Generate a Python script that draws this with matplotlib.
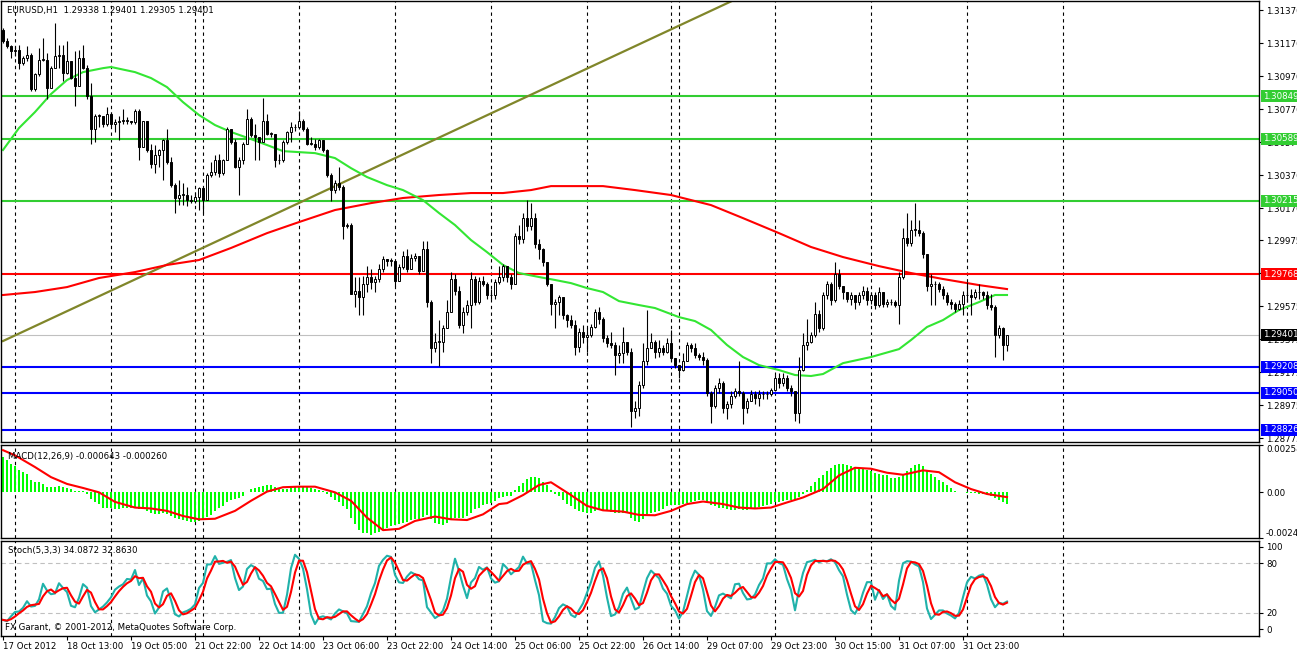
import matplotlib.pyplot as plt
import numpy as np
import pandas as pd

# EURUSD H1 bars, 17 Oct 2012 21:00 .. 1 Nov 2012 10:00
first_open = 1.3125
closes = [
    1.3118, 1.3115, 1.3112, 1.3113, 1.3105, 1.3108, 1.3110, 1.3089, 1.3098, 1.3107,
    1.3107, 1.3090, 1.3102, 1.3109, 1.3110, 1.3099, 1.3106, 1.3096, 1.3091, 1.3108,
    1.3102, 1.3085, 1.3065, 1.3073, 1.3073, 1.3068, 1.3074, 1.3068, 1.3069, 1.3070,
    1.3070, 1.3070, 1.3069, 1.3076, 1.3054, 1.3070, 1.3052, 1.3044, 1.3049, 1.3052,
    1.3058, 1.3045, 1.3031, 1.3023, 1.3025, 1.3025, 1.3022, 1.3021, 1.3024, 1.3029,
    1.3022, 1.3037, 1.3039, 1.3046, 1.3038, 1.3046, 1.3065, 1.3057, 1.3042, 1.3046,
    1.3056, 1.3071, 1.3061, 1.3060, 1.3057, 1.3070, 1.3062, 1.3062, 1.3046, 1.3046,
    1.3057, 1.3063, 1.3066, 1.3066, 1.3070, 1.3065, 1.3056, 1.3056, 1.3054, 1.3058,
    1.3052, 1.3037, 1.3028, 1.3032, 1.3030, 1.3006, 1.3007, 1.2965, 1.2967, 1.2963,
    1.2971, 1.2975, 1.2972, 1.2974, 1.2980, 1.2986, 1.2985, 1.2985, 1.2973, 1.2981,
    1.2988, 1.2980, 1.2987, 1.2988, 1.2979, 1.2992, 1.2960, 1.2932, 1.2936, 1.2936,
    1.2944, 1.2954, 1.2974, 1.2967, 1.2946, 1.2954, 1.2958, 1.2974, 1.2960, 1.2973,
    1.2971, 1.2964, 1.2964, 1.2972, 1.2975, 1.2982, 1.2975, 1.2971, 1.3000, 1.2998,
    1.3011, 1.3006, 1.3011, 1.2995, 1.2992, 1.2984, 1.2971, 1.2959, 1.2960, 1.2963,
    1.2952, 1.2949, 1.2946, 1.2933, 1.2942, 1.2939, 1.2940, 1.2945, 1.2954, 1.2950,
    1.2938, 1.2935, 1.2934, 1.2928, 1.2929, 1.2936, 1.2930, 1.2894, 1.2896, 1.2910,
    1.2924, 1.2932, 1.2936, 1.2930, 1.2932, 1.2930, 1.2935, 1.2926, 1.2922, 1.2919,
    1.2924, 1.2934, 1.2932, 1.2928, 1.2927, 1.2925, 1.2905, 1.2897, 1.2908, 1.2911,
    1.2896, 1.2898, 1.2903, 1.2906, 1.2905, 1.2896, 1.2900, 1.2904, 1.2902, 1.2904,
    1.2904, 1.2904, 1.2907, 1.2914, 1.2911, 1.2914, 1.2908, 1.2906, 1.2893, 1.2919,
    1.2934, 1.2936, 1.2940, 1.2953, 1.2944, 1.2964, 1.2971, 1.2961, 1.2977, 1.2970,
    1.2966, 1.2962, 1.2964, 1.2960, 1.2964, 1.2967, 1.2961, 1.2964, 1.2958, 1.2966,
    1.2959, 1.2960, 1.2960, 1.2958, 1.2975, 1.2999, 1.2996, 1.3004, 1.3004, 1.3002,
    1.2989, 1.2970, 1.2971, 1.2971, 1.2968, 1.2964, 1.2960, 1.2959, 1.2956, 1.2959,
    1.2964, 1.2964, 1.2963, 1.2966, 1.2966, 1.2964, 1.2958, 1.2957, 1.2940, 1.2944,
    1.29338, 1.29401]
highs = [
    1.3126, 1.3120, 1.3116, 1.3115, 1.3116, 1.3109, 1.3115, 1.3111, 1.3099, 1.3114,
    1.3120, 1.3111, 1.3103, 1.3129, 1.3116, 1.3116, 1.3118, 1.3105, 1.3112, 1.3113,
    1.3116, 1.3104, 1.3093, 1.3074, 1.3074, 1.3070, 1.3078, 1.3075, 1.3071, 1.3073,
    1.3077, 1.3072, 1.3070, 1.3077, 1.3077, 1.3070, 1.3070, 1.3056, 1.3055, 1.3053,
    1.3059, 1.3065, 1.3048, 1.3032, 1.3034, 1.3032, 1.3030, 1.3025, 1.3027, 1.3030,
    1.3030, 1.3038, 1.3045, 1.3049, 1.3050, 1.3047, 1.3066, 1.3065, 1.3059, 1.3048,
    1.3057, 1.3077, 1.3072, 1.3068, 1.3060, 1.3084, 1.3074, 1.3063, 1.3061, 1.3050,
    1.3058, 1.3064, 1.3069, 1.3068, 1.3076, 1.3071, 1.3066, 1.3060, 1.3059, 1.3059,
    1.3058, 1.3053, 1.3038, 1.3034, 1.3042, 1.3031, 1.3008, 1.3008, 1.2975, 1.2975,
    1.2976, 1.2982, 1.2980, 1.2976, 1.2983, 1.2988, 1.2986, 1.2987, 1.2983, 1.2983,
    1.2991, 1.2992, 1.2989, 1.2990, 1.2986, 1.2997, 1.2997, 1.2961, 1.2941, 1.2949,
    1.2946, 1.2961, 1.2978, 1.2977, 1.2970, 1.2957, 1.2961, 1.2978, 1.2976, 1.2975,
    1.2976, 1.2972, 1.2968, 1.2974, 1.2982, 1.2983, 1.2981, 1.2977, 1.3002, 1.3007,
    1.3014, 1.3022, 1.3020, 1.3014, 1.2998, 1.2993, 1.2984, 1.2971, 1.2962, 1.2964,
    1.2963, 1.2953, 1.2952, 1.2949, 1.2944, 1.2946, 1.2944, 1.2947, 1.2956, 1.2957,
    1.2951, 1.2940, 1.2942, 1.2936, 1.2934, 1.2945, 1.2936, 1.2932, 1.2900, 1.2912,
    1.2935, 1.2955, 1.2941, 1.2937, 1.2937, 1.2934, 1.2938, 1.2943, 1.2926, 1.2922,
    1.2929, 1.2936, 1.2935, 1.2935, 1.2929, 1.2930, 1.2926, 1.2906, 1.2910, 1.2914,
    1.2912, 1.2900, 1.2906, 1.2908, 1.2924, 1.2906, 1.2902, 1.2907, 1.2906, 1.2907,
    1.2906, 1.2906, 1.2908, 1.2916, 1.2917, 1.2917, 1.2916, 1.2910, 1.2906, 1.2927,
    1.2941, 1.2950, 1.2942, 1.2960, 1.2955, 1.2966, 1.2973, 1.2972, 1.2984, 1.2980,
    1.2970, 1.2966, 1.2966, 1.2962, 1.2966, 1.2970, 1.2969, 1.2966, 1.2966, 1.2969,
    1.2966, 1.2962, 1.2962, 1.2961, 1.2978, 1.3005, 1.3014, 1.3010, 1.3020, 1.3010,
    1.3003, 1.2989, 1.2977, 1.2973, 1.2972, 1.2970, 1.2966, 1.2962, 1.2960, 1.2961,
    1.2967, 1.2972, 1.2968, 1.2968, 1.2971, 1.2967, 1.2967, 1.2965, 1.2958, 1.2946,
    1.2945, 1.29401]
lows = [
    1.3117, 1.3114, 1.3108, 1.3109, 1.3101, 1.3104, 1.3106, 1.3088, 1.3088, 1.3097,
    1.3106, 1.3083, 1.3090, 1.3102, 1.3102, 1.3094, 1.3098, 1.3095, 1.3079, 1.3091,
    1.3101, 1.3083, 1.3056, 1.3057, 1.3066, 1.3066, 1.3067, 1.3067, 1.3063, 1.3058,
    1.3068, 1.3068, 1.3068, 1.3068, 1.3046, 1.3054, 1.3051, 1.3041, 1.3038, 1.3042,
    1.3034, 1.3044, 1.3030, 1.3014, 1.3019, 1.3019, 1.3018, 1.3020, 1.3020, 1.3016,
    1.3014, 1.3022, 1.3036, 1.3037, 1.3036, 1.3037, 1.3046, 1.3056, 1.3041, 1.3025,
    1.3044, 1.3056, 1.3060, 1.3046, 1.3046, 1.3061, 1.3061, 1.3060, 1.3042, 1.3044,
    1.3045, 1.3056, 1.3057, 1.3064, 1.3065, 1.3064, 1.3055, 1.3055, 1.3052, 1.3053,
    1.3051, 1.3036, 1.3021, 1.3026, 1.3028, 1.2998, 1.3005, 1.2965, 1.2957, 1.2952,
    1.2952, 1.2966, 1.2968, 1.2966, 1.2972, 1.2978, 1.2982, 1.2982, 1.2970, 1.2973,
    1.2980, 1.2978, 1.2980, 1.2985, 1.2977, 1.2979, 1.2957, 1.2923, 1.2930, 1.2921,
    1.2930, 1.2944, 1.2954, 1.2964, 1.2944, 1.2941, 1.2952, 1.2944, 1.2958, 1.2959,
    1.2970, 1.2962, 1.2962, 1.2962, 1.2971, 1.2973, 1.2972, 1.2968, 1.2971, 1.2995,
    1.2996, 1.3003, 1.3004, 1.2993, 1.2986, 1.2982, 1.2970, 1.2952, 1.2944, 1.2952,
    1.2950, 1.2945, 1.2944, 1.2928, 1.2930, 1.2935, 1.2930, 1.2939, 1.2944, 1.2947,
    1.2936, 1.2933, 1.2932, 1.2916, 1.2923, 1.2923, 1.2928, 1.2884, 1.2890, 1.2891,
    1.2908, 1.2922, 1.2932, 1.2926, 1.2927, 1.2928, 1.2929, 1.2924, 1.2920, 1.2914,
    1.2918, 1.2927, 1.2930, 1.2926, 1.2925, 1.2922, 1.2903, 1.2887, 1.2896, 1.2905,
    1.2893, 1.2889, 1.2896, 1.2902, 1.2903, 1.2886, 1.2893, 1.2900, 1.2898, 1.2897,
    1.2901, 1.2901, 1.2903, 1.2906, 1.2908, 1.2909, 1.2906, 1.2903, 1.2888, 1.2887,
    1.2918, 1.2931, 1.2935, 1.2939, 1.2942, 1.2943, 1.2962, 1.2958, 1.2960, 1.2968,
    1.2962, 1.2960, 1.2958, 1.2956, 1.2958, 1.2962, 1.2958, 1.2959, 1.2956, 1.2957,
    1.2957, 1.2957, 1.2958, 1.2957, 1.2947, 1.2974, 1.2994, 1.2994, 1.3000, 1.3000,
    1.2987, 1.2967, 1.2958, 1.2958, 1.2966, 1.2962, 1.2958, 1.2956, 1.2954, 1.2955,
    1.2952, 1.2960, 1.2952, 1.2962, 1.2962, 1.2962, 1.2956, 1.2955, 1.2927, 1.2938,
    1.2925, 1.29305]

# moving averages (bar index, price)
green_bars = [0, 4, 8, 12, 16, 20, 25, 27, 33, 37, 41, 45, 49, 53, 57, 62, 66, 70, 74, 78,
              83, 87, 91, 96, 100, 105, 109, 113, 117, 121, 125, 129, 134, 138, 142, 146, 150, 154, 159, 163,
              169, 173, 177, 181, 185, 189, 194, 198, 202, 205, 210, 217, 224, 227, 231, 235, 239, 244, 248, 251]
green_vals = [1.30522, 1.30655, 1.30752, 1.30861, 1.30946, 1.30994, 1.31018, 1.31025, 1.30994, 1.30958,
              1.30903, 1.30812, 1.30734, 1.30673, 1.30631, 1.30588, 1.30552, 1.30515, 1.30509, 1.30503,
              1.30473, 1.30412, 1.30358, 1.30309, 1.30279, 1.30218, 1.30140, 1.30067, 1.29976, 1.29903,
              1.29825, 1.29776, 1.29752, 1.29734, 1.29715, 1.29685, 1.29661, 1.29606, 1.29582, 1.29564,
              1.29509, 1.29485, 1.29431, 1.29340, 1.29267, 1.29218, 1.29188, 1.29158, 1.29152, 1.29164,
              1.29230, 1.29267, 1.29315, 1.29370, 1.29449, 1.29491, 1.29552, 1.29600, 1.29643, 1.29643]
red_bars = [0, 8, 16, 24, 33, 41, 49, 57, 66, 74, 83, 92, 100, 109, 117, 125, 132, 137, 150, 158,
            167, 177, 185, 194, 202, 210, 219, 227, 235, 244, 251]
red_vals = [1.29643, 1.29661, 1.29691, 1.29746, 1.29782, 1.29825, 1.29855, 1.29928, 1.30018, 1.30085,
            1.30158, 1.30200, 1.30231, 1.30249, 1.30261, 1.30261, 1.30279, 1.30303, 1.30303, 1.30279,
            1.30249, 1.30188, 1.30109, 1.30018, 1.29934, 1.29873, 1.29818, 1.29776, 1.29740, 1.29703, 1.29679]
trend_bars = [0, 190]
trend_prices = [1.29364, 1.31513]

green_levels = [1.30849, 1.30589, 1.30215]
red_levels = [1.29768]
blue_levels = [1.29208, 1.29050, 1.28826]
bid = 1.29401

macd = [
    0.00193, 0.00175, 0.00156, 0.00144, 0.00120, 0.00110, 0.00101, 0.00070, 0.00055, 0.00055,
    0.00046, 0.00031, 0.00031, 0.00028, 0.00037, 0.00028, 0.00022, 0.00018, 0.00006, 0.00009,
    0.00009, -0.00009, -0.00037, -0.00055, -0.00064, -0.00083, -0.00083, -0.00083, -0.00092, -0.00092,
    -0.00088, -0.00088, -0.00088, -0.00083, -0.00092, -0.00092, -0.00101, -0.00110, -0.00116, -0.00116,
    -0.00110, -0.00116, -0.00129, -0.00138, -0.00147, -0.00151, -0.00156, -0.00162, -0.00162, -0.00156,
    -0.00151, -0.00132, -0.00125, -0.00101, -0.00088, -0.00074, -0.00055, -0.00040, -0.00037, -0.00033,
    -0.00018, 0.00004, 0.00018, 0.00022, 0.00028, 0.00037, 0.00040, 0.00040, 0.00028, 0.00018,
    0.00018, 0.00018, 0.00022, 0.00028, 0.00037, 0.00037, 0.00031, 0.00022, 0.00018, 0.00015,
    0.00009, -0.00009, -0.00028, -0.00040, -0.00055, -0.00074, -0.00092, -0.00138, -0.00175, -0.00206,
    -0.00221, -0.00224, -0.00230, -0.00224, -0.00217, -0.00206, -0.00193, -0.00184, -0.00180, -0.00175,
    -0.00166, -0.00160, -0.00151, -0.00144, -0.00144, -0.00132, -0.00125, -0.00144, -0.00166, -0.00175,
    -0.00180, -0.00166, -0.00147, -0.00138, -0.00138, -0.00138, -0.00129, -0.00110, -0.00092, -0.00083,
    -0.00070, -0.00064, -0.00059, -0.00046, -0.00033, -0.00028, -0.00022, -0.00018, 0.00015, 0.00033,
    0.00052, 0.00074, 0.00083, 0.00083, 0.00077, 0.00059, 0.00040, 0.00015, -0.00009, -0.00022,
    -0.00040, -0.00064, -0.00074, -0.00092, -0.00101, -0.00107, -0.00110, -0.00114, -0.00101, -0.00092,
    -0.00096, -0.00101, -0.00107, -0.00114, -0.00114, -0.00110, -0.00110, -0.00138, -0.00156, -0.00160,
    -0.00147, -0.00125, -0.00114, -0.00107, -0.00101, -0.00092, -0.00077, -0.00070, -0.00070, -0.00070,
    -0.00064, -0.00059, -0.00052, -0.00048, -0.00040, -0.00040, -0.00052, -0.00070, -0.00077, -0.00083,
    -0.00088, -0.00092, -0.00096, -0.00096, -0.00092, -0.00096, -0.00096, -0.00088, -0.00083, -0.00079,
    -0.00074, -0.00070, -0.00064, -0.00055, -0.00052, -0.00046, -0.00040, -0.00040, -0.00040, -0.00028,
    -0.00009, 0.00015, 0.00033, 0.00059, 0.00077, 0.00096, 0.00114, 0.00132, 0.00147, 0.00153,
    0.00153, 0.00147, 0.00144, 0.00138, 0.00132, 0.00129, 0.00120, 0.00114, 0.00107, 0.00101,
    0.00096, 0.00092, 0.00077, 0.00077, 0.00083, 0.00092, 0.00114, 0.00132, 0.00147, 0.00153,
    0.00144, 0.00120, 0.00101, 0.00083, 0.00070, 0.00055, 0.00040, 0.00022, 0.00009, 0.00004,
    0.00000, -0.00004, -0.00006, -0.00004, -0.00009, -0.00009, -0.00009, -0.00018, -0.00033, -0.00040,
    -0.00055, -0.00064]
sig_bars = [0, 3, 8, 12, 16, 20, 24, 28, 33, 37, 41, 45, 49, 53, 58, 62, 66, 70, 74, 78,
            83, 87, 91, 95, 99, 103, 108, 112, 116, 120, 124, 126, 130, 134, 137, 142, 146, 150, 155, 159,
            163, 167, 171, 175, 180, 184, 188, 192, 196, 200, 205, 209, 213, 217, 221, 225, 230, 234, 238, 242,
            246, 251]
sig_vals = [0.00230, 0.00202, 0.00138, 0.00083, 0.00046, 0.00024, 0.0, -0.00052, -0.00083, -0.00088,
            -0.00101, -0.00129, -0.00147, -0.00144, -0.00101, -0.00046, 0.00004, 0.00028, 0.00031, 0.00031,
            0.0, -0.00046, -0.00138, -0.00206, -0.00199, -0.00156, -0.00132, -0.00147, -0.00151, -0.00120,
            -0.00064, -0.00059, -0.00015, 0.00040, 0.00055, -0.00015, -0.00074, -0.00098, -0.00105, -0.00123,
            -0.00125, -0.00101, -0.00064, -0.00050, -0.00064, -0.00083, -0.00088, -0.00083, -0.00055, -0.00028,
            0.00018, 0.00092, 0.00134, 0.00129, 0.00107, 0.00096, 0.00120, 0.00110, 0.00055, 0.00018,
            -0.00009, -0.00026]

price_ticks = [1.31370, 1.31170, 1.30970, 1.30770, 1.30570, 1.30370, 1.30170, 1.29975,
               1.29775, 1.29575, 1.29375, 1.29175, 1.28975, 1.28775]
time_bars = [0, 16, 32, 48, 64, 80, 96, 112, 128, 144, 160, 176, 192, 208, 224, 240]
time_labels = ["17 Oct 2012", "18 Oct 13:00", "19 Oct 05:00", "21 Oct 22:00", "22 Oct 14:00",
               "23 Oct 06:00", "23 Oct 22:00", "24 Oct 14:00", "25 Oct 06:00", "25 Oct 22:00",
               "26 Oct 14:00", "29 Oct 07:00", "29 Oct 23:00", "30 Oct 15:00", "31 Oct 07:00",
               "31 Oct 23:00"]
day_seps = [3, 27, 48, 50, 74, 98, 122, 146, 167, 169, 193, 217, 241, 265]

FS = 6.2
plt.rcParams['font.family'] = ['DejaVu Sans']

W, H = 1297, 653
fig = plt.figure(figsize=(W / 100, H / 100), dpi=100)
fig.patch.set_facecolor('white')


def rect(top, bottom, left=1, right=1259):
    return [left / W, 1 - bottom / H, (right - left) / W, (bottom - top) / H]


ax1 = fig.add_axes(rect(1, 442))
ax2 = fig.add_axes(rect(445, 538))
ax3 = fig.add_axes(rect(541, 636))

bars = np.arange(len(closes))
c = np.array(closes)
o = np.array([first_open] + closes[:-1])
h = np.maximum(np.array(highs), np.maximum(o, c))
l = np.minimum(np.array(lows), np.minimum(o, c))

for ax in (ax1, ax2, ax3):
    ax.set_xlim(-0.5, 314)
    for b in day_seps:
        ax.axvline(b, color='black', lw=0.8, ls=(0, (3, 3)), zorder=1)
    for s in ax.spines.values():
        s.set_linewidth(1.0)
    ax.yaxis.tick_right()
    ax.tick_params(axis='y', direction='out', length=3, width=0.8, labelsize=FS, pad=2)
    ax.tick_params(axis='x', bottom=False, labelbottom=False)

# main price panel
ax1.set_ylim(1.28752, 1.31425)
for p in green_levels:
    ax1.axhline(p, color='#32cd32', lw=1.5, zorder=2)
for p in red_levels:
    ax1.axhline(p, color='#ff0000', lw=1.5, zorder=2)
for p in blue_levels:
    ax1.axhline(p, color='#0000ff', lw=1.5, zorder=2)
ax1.axhline(bid, color='#c0c0c0', lw=0.8, zorder=1.5)

ax1.plot(trend_bars, trend_prices, color='#80862a', lw=1.6, zorder=2.2)
ax1.plot(red_bars, red_vals, color='#ff0000', lw=1.5, zorder=2.3)
ax1.plot(green_bars, green_vals, color='#33e633', lw=1.5, zorder=2.3)

ax1.vlines(bars, l, h, color='black', lw=0.8, zorder=3)
up = c >= o
body = np.maximum(np.abs(c - o), 0.000025)
ax1.bar(bars, body, bottom=np.minimum(o, c), width=0.72,
        color=np.where(up, 'white', 'black'), edgecolor='black', linewidth=0.7, zorder=3.1)

ax1.set_yticks(price_ticks)
ax1.set_yticklabels([f'{p:.5f}' for p in price_ticks])

ytr = ax1.get_yaxis_transform()
boxes = [(p, '#32cd32') for p in green_levels] + [(p, '#ff0000') for p in red_levels] \
    + [(bid, '#000000')] + [(p, '#0000ff') for p in blue_levels]
for p, col in boxes:
    ax1.text(1.003, p, f'{p:.5f}', transform=ytr, color='white', fontsize=FS, va='center',
             ha='left', clip_on=False, zorder=6,
             bbox=dict(boxstyle='square,pad=0.18', fc=col, ec='none'))

fig.text(7 / W, 1 - 10 / H, 'EURUSD,H1  1.29338 1.29401 1.29305 1.29401', fontsize=FS, va='center')

# MACD panel
ax2.set_ylim(-0.00249, 0.002583)
ax2.bar(bars, macd, width=0.65, color='#00ff00', linewidth=0, zorder=2)
ax2.plot(sig_bars, sig_vals, color='#ff0000', lw=1.5, zorder=3)
ax2.set_yticks([0.002583, 0.0, -0.00249])
ax2.set_yticklabels(['0.002583', '0.00', '-0.002490'])
tl = ax2.get_yticklabels()
tl[0].set_verticalalignment('top')
tl[2].set_verticalalignment('bottom')
ax2.text(7 / 1258, 0.88, 'MACD(12,26,9) -0.000643 -0.000260', transform=ax2.transAxes,
         fontsize=FS, va='center', zorder=4)

# Stochastic panel
hh = pd.Series(h).rolling(5, min_periods=1).max()
ll = pd.Series(l).rolling(5, min_periods=1).min()
num = (pd.Series(c) - ll).rolling(3, min_periods=1).sum()
den = (hh - ll).rolling(3, min_periods=1).sum()
k = 100 * num / den
d = k.rolling(3, min_periods=1).mean()

ax3.set_ylim(-8.5, 107.3)
for lev in (20, 80):
    ax3.axhline(lev, color='#c0c0c0', lw=0.8, ls=(0, (4, 3)), zorder=1)
ax3.plot(bars, k, color='#20b2aa', lw=1.5, zorder=2)
ax3.plot(bars, d, color='#ff0000', lw=1.5, zorder=3)
ax3.set_yticks([100, 80, 20, 0])
ax3.set_yticklabels(['100', '80', '20', '0'])
ax3.text(7 / 1258, 0.9, 'Stoch(5,3,3) 34.0872 32.8630', transform=ax3.transAxes,
         fontsize=FS, va='center', zorder=4)
ax3.text(4 / 1258, 0.09, 'FX Garant, \u00a9 2001-2012, MetaQuotes Software Corp.',
         transform=ax3.transAxes, fontsize=FS, va='center', zorder=4)

ax3.tick_params(axis='x', bottom=True, labelbottom=True, direction='out', length=3,
                width=0.8, labelsize=FS, pad=1)
ax3.set_xticks(time_bars)
ax3.set_xticklabels(time_labels)
for t in ax3.get_xticklabels():
    t.set_horizontalalignment('left')

fig.savefig('out.png', dpi=100, facecolor='white')
